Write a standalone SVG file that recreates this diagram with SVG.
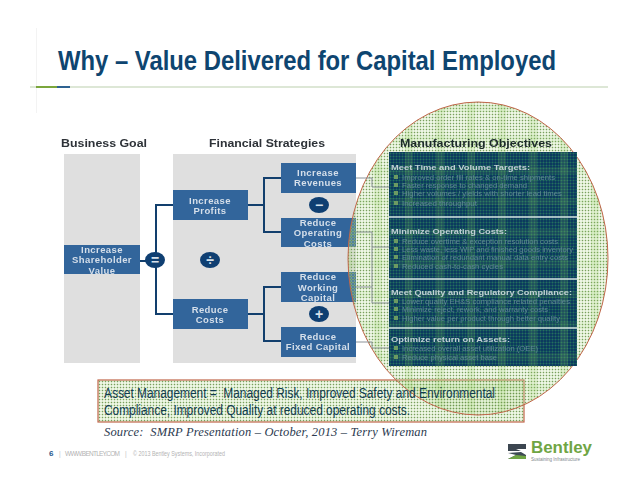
<svg xmlns="http://www.w3.org/2000/svg" width="638" height="493" viewBox="0 0 638 493">
<style>
text{font-family:"Liberation Sans",Arial,sans-serif}
.box{fill:#32659b}
.bt{font-size:9.500px;font-weight:700;fill:#d5dfea;text-anchor:middle;letter-spacing:.4px}
.hd{font-size:10px;font-weight:700;fill:#2e3338}
.gray{fill:#dfdfdf}
.cn{fill:none;stroke:#123f6d;stroke-width:2}
.gc{fill:none;stroke:#8b9298;stroke-width:1}
.op{fill:#0f3f72}
.ot{font-size:14px;font-weight:700;fill:#d8e2ec;text-anchor:middle}
.ph{font-size:8px;font-weight:700;fill:#c0d0d4}
.pi{font-size:7px;fill:#5f8893}
.bl{fill:#6c9a62}
.sep{stroke:#d3e2e2;stroke-width:1.500}
.soft{filter:url(#blur)}
</style>
<defs>
<filter id="blur" x="-5%" y="-20%" width="110%" height="140%"><feGaussianBlur stdDeviation="0.45"/></filter>
<pattern id="dots" width="3" height="3" patternUnits="userSpaceOnUse">
<rect width="3" height="3" fill="#b9dc98" fill-opacity=".25"/>
<rect width="3" height="1" fill="#a9c48c" fill-opacity=".35"/>
<rect width="1" height="3" fill="#a9c48c" fill-opacity=".35"/>
<rect width="1" height="1" fill="#5f8a44" fill-opacity=".75"/>
</pattern>
<pattern id="bands" width="31" height="31" patternUnits="userSpaceOnUse">
<rect x="2" width="8" height="31" fill="#8fd05a" fill-opacity=".16"/>
<rect y="12" width="31" height="7" fill="#8fd05a" fill-opacity=".1"/>
</pattern>
<pattern id="pdots" width="3" height="3" patternUnits="userSpaceOnUse">
<rect width="3" height="3" fill="#0c3a5e"/>
<rect width="3" height="1" fill="#14505f"/>
<rect width="1" height="3" fill="#14505f"/>
<rect width="1" height="1" fill="#25705c"/>
</pattern>
</defs>
<rect width="638" height="493" fill="#fff"/>
<g id="header">
<rect x="36" y="28" width="1" height="85" fill="#f3f3f3"/>
<rect x="30" y="86" width="578" height="2" fill="#dde7d6"/>
<rect x="36" y="86" width="21" height="2" fill="#7ba63c"/>
<rect x="57" y="86" width="13" height="2" fill="#2e6291"/>
<text x="58" y="69.500" font-size="27" font-weight="700" fill="#0e4570" textLength="498" lengthAdjust="spacingAndGlyphs">Why – Value Delivered for Capital Employed</text>
</g>
<g id="columns">
<rect class="gray" x="64" y="154" width="76" height="209"/>
<rect class="gray" x="173" y="154" width="183" height="209"/>
<text class="hd soft" x="61" y="147" textLength="86" lengthAdjust="spacingAndGlyphs">Business Goal</text>
<text class="hd soft" x="209" y="147" textLength="116" lengthAdjust="spacingAndGlyphs">Financial Strategies</text>
</g>
<g id="n-shareholder"><rect class="box" x="64" y="245" width="76" height="29"/><text class="bt soft" x="102" y="252.500">Increase</text><text class="bt soft" x="102" y="263">Shareholder</text><text class="bt soft" x="102" y="273.500">Value</text></g>
<g id="n-profits"><rect class="box" x="173" y="190" width="75" height="30"/><text class="bt soft" x="210" y="204">Increase</text><text class="bt soft" x="210" y="214">Profits</text></g>
<g id="n-costs"><rect class="box" x="173" y="299" width="75" height="30"/><text class="bt soft" x="210" y="313">Reduce</text><text class="bt soft" x="210" y="323">Costs</text></g>
<g id="n-revenues"><rect class="box" x="281" y="163" width="75" height="30"/><text class="bt soft" x="318" y="176">Increase</text><text class="bt soft" x="318" y="186">Revenues</text></g>
<g id="n-operating"><rect class="box" x="281" y="218" width="75" height="29"/><text class="bt soft" x="318" y="225.500">Reduce</text><text class="bt soft" x="318" y="236">Operating</text><text class="bt soft" x="318" y="246.500">Costs</text></g>
<g id="n-working"><rect class="box" x="281" y="272" width="75" height="30"/><text class="bt soft" x="318" y="280">Reduce</text><text class="bt soft" x="318" y="290.500">Working</text><text class="bt soft" x="318" y="301">Capital</text></g>
<g id="n-fixed"><rect class="box" x="281" y="327" width="75" height="30"/><text class="bt soft" x="318" y="340">Reduce</text><text class="bt soft" x="318" y="350">Fixed Capital</text></g>
<g id="highlight-box">
<rect x="98" y="380" width="426" height="42" fill="url(#dots)" stroke="#c0664a" stroke-width="1.200"/>
</g>
<g id="highlight-ellipse">
<ellipse cx="478" cy="258.500" rx="130" ry="156.500" fill="url(#dots)"/>
<ellipse cx="478" cy="258.500" rx="130" ry="156.500" fill="url(#bands)" stroke="#c0664a" stroke-width="1"/>
<text x="400" y="147" font-size="11.500" font-weight="700" fill="#1d2b2b" textLength="152" lengthAdjust="spacingAndGlyphs" class="soft">Manufacturing Objectives</text>
</g>
<g id="connectors">
<path class="cn" d="M140 261H155M173 205H156V314H173"/>
<path class="cn" d="M248 205H264M281 178H264V232H281M248 314H264M281 287H264V341H281"/>
<path class="gc" d="M356 178H372V187H389M356 232H372V303H389M372 247H389M356 287H372M356 342H372V348H389"/>
</g>
<g id="operators">
<g id="op-equals"><ellipse class="op" cx="155" cy="260" rx="10" ry="8"/><text class="ot" x="155" y="265">=</text></g>
<g id="op-divide"><ellipse class="op" cx="210" cy="260" rx="10" ry="8"/><text class="ot" x="210" y="265">÷</text></g>
<g id="op-minus"><ellipse class="op" cx="319" cy="205" rx="10" ry="8"/><text class="ot" x="319" y="210">−</text></g>
<g id="op-plus"><ellipse class="op" cx="319" cy="314" rx="10" ry="8"/><text class="ot" x="319" y="319">+</text></g>
</g>
<g id="objectives-panel">
<rect x="389" y="152" width="188" height="214" fill="url(#pdots)"/>
<rect x="389" y="152" width="188" height="214" fill="url(#bands)"/>
<line class="sep" x1="389" y1="217" x2="577" y2="217"/>
<line class="sep" x1="389" y1="279" x2="577" y2="279"/>
<line class="sep" x1="389" y1="328" x2="577" y2="328"/>
<g class="bl">
<rect x="394" y="175" width="4" height="4"/><rect x="394" y="183" width="4" height="4"/><rect x="394" y="191" width="4" height="4"/><rect x="394" y="201" width="4" height="4"/>
<rect x="394" y="239" width="4" height="4"/><rect x="394" y="247" width="4" height="4"/><rect x="394" y="255" width="4" height="4"/><rect x="394" y="264" width="4" height="4"/>
<rect x="394" y="299" width="4" height="4"/><rect x="394" y="307" width="4" height="4"/><rect x="394" y="316" width="4" height="4"/>
<rect x="394" y="346" width="4" height="4"/><rect x="394" y="355" width="4" height="4"/>
</g>
<g class="soft">
<text class="ph" x="391" y="170" textLength="139" lengthAdjust="spacingAndGlyphs">Meet Time and Volume Targets:</text>
<text class="pi" x="402" y="179.500" textLength="153" lengthAdjust="spacingAndGlyphs">Improved order fill rates &amp; on-time shipments</text>
<text class="pi" x="402" y="187.500" textLength="125" lengthAdjust="spacingAndGlyphs">Faster response to changed demand</text>
<text class="pi" x="402" y="195.500" textLength="160" lengthAdjust="spacingAndGlyphs">Higher volumes / yields with shorter lead times</text>
<text class="pi" x="402" y="205.500" textLength="75" lengthAdjust="spacingAndGlyphs">Increased throughput</text>
<text class="ph" x="391" y="234" textLength="116" lengthAdjust="spacingAndGlyphs">Minimize Operating Costs:</text>
<text class="pi" x="402" y="243.500" textLength="156" lengthAdjust="spacingAndGlyphs">Reduce overtime &amp; exception resolution costs</text>
<text class="pi" x="402" y="251.500" textLength="171" lengthAdjust="spacingAndGlyphs">Less waste, less WIP and finished goods inventory</text>
<text class="pi" x="402" y="259.500" textLength="166" lengthAdjust="spacingAndGlyphs">Elimination of redundant manual data entry costs</text>
<text class="pi" x="402" y="268.500" textLength="101" lengthAdjust="spacingAndGlyphs">Reduced cash-to-cash cycles</text>
<text class="ph" x="391" y="295" textLength="181" lengthAdjust="spacingAndGlyphs">Meet Quality and Regulatory Compliance:</text>
<text class="pi" x="402" y="303.500" textLength="168" lengthAdjust="spacingAndGlyphs">Lower quality EH&amp;S compliance related penalties</text>
<text class="pi" x="402" y="311.500" textLength="146" lengthAdjust="spacingAndGlyphs">Minimize reject, rework, and warranty costs</text>
<text class="pi" x="402" y="320.500" textLength="158" lengthAdjust="spacingAndGlyphs">Higher value per product through better quality</text>
<text class="ph" x="391" y="342" textLength="119" lengthAdjust="spacingAndGlyphs">Optimize return on Assets:</text>
<text class="pi" x="402" y="350.500" textLength="136" lengthAdjust="spacingAndGlyphs">Increased overall asset utilization (OEE)</text>
<text class="pi" x="402" y="359.500" textLength="95" lengthAdjust="spacingAndGlyphs">Reduce physical asset base</text>
</g>
</g>
<g id="notes">
<text x="104" y="398" font-size="14" fill="#123c50" textLength="391" lengthAdjust="spacingAndGlyphs" xml:space="preserve">Asset Management =  Managed Risk, Improved Safety and Environmental</text>
<text x="104" y="415" font-size="14" fill="#123c50" textLength="306" lengthAdjust="spacingAndGlyphs">Compliance, Improved Quality at reduced operating costs.</text>
<text x="104" y="436" font-size="12.500" font-style="italic" fill="#2c3a50" style="font-family:'Liberation Serif',serif" textLength="323" xml:space="preserve">Source:  SMRP Presentation – October, 2013 – Terry Wireman</text>
</g>
<g id="footer">
<text x="49" y="456" font-size="8" font-weight="700" fill="#1f5a8c">6</text>
<text x="59" y="456" font-size="6.500" fill="#c4c4c4">|</text>
<text x="65" y="455.500" font-size="6.500" fill="#b3b3b3" textLength="55">WWW.BENTLEY.COM</text>
<text x="125" y="456" font-size="6.500" fill="#c4c4c4">|</text>
<text x="133" y="455.500" font-size="6.500" fill="#b3b3b3" textLength="92" lengthAdjust="spacingAndGlyphs">© 2013 Bentley Systems, Incorporated</text>
</g>
<g id="logo">
<polygon points="508,444 526,444 526,449 516,449 521,451 508,451" fill="#3c4650"/>
<polygon points="508,453 521,452 526,455 526,459 508,459 516,455" fill="#3d4a54"/>
<polygon points="508,459 516,455 526,456 526,459" fill="#6fa544"/>
<text x="531" y="453" font-size="16" font-weight="700" fill="#6fa544" textLength="61" lengthAdjust="spacingAndGlyphs">Bentley</text>
<text x="531" y="460.500" font-size="4.500" fill="#7d858c" textLength="49" lengthAdjust="spacingAndGlyphs">Sustaining Infrastructure</text>
</g>
</svg>
